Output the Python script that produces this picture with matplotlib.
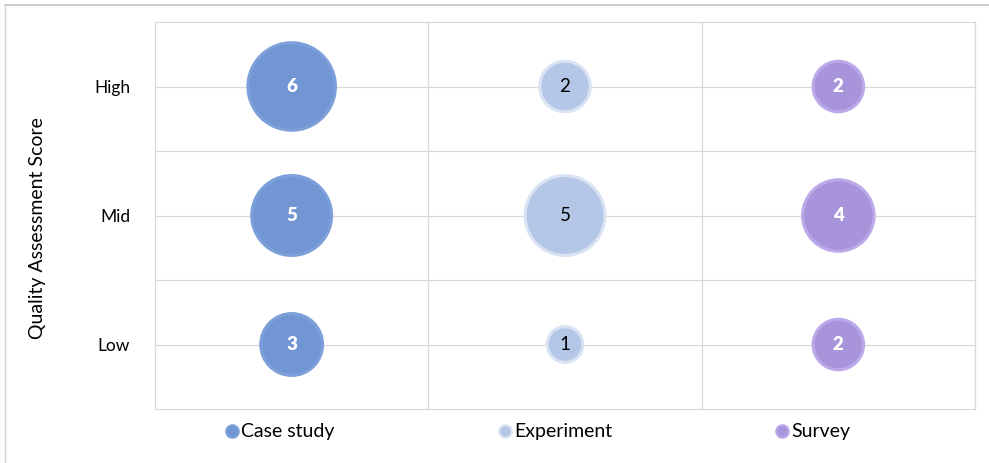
import matplotlib
matplotlib.use("Agg")
import matplotlib.pyplot as plt
from matplotlib.lines import Line2D
import numpy as np

plt.rcParams['font.family'] = ['Lato', 'DejaVu Sans']

methods = ["Case study", "Experiment", "Survey"]
levels = ["Low", "Mid", "High"]
case_study = [3, 5, 6]
experiment = [1, 5, 2]
survey = [2, 4, 2]

fills = ["#7296D4", "#B4C7E7", "#A794DA"]
edges = ["#7DA0DA", "#DAE3F3", "#BCA9EA"]
label_colors = ["white", "black", "white"]
label_weights = ["heavy", "normal", "heavy"]

series = [case_study, experiment, survey]

fig = plt.figure(figsize=(9.89, 4.63), dpi=100)
W, H = 989, 463
ax = fig.add_axes([155 / W, (H - 409) / H, (975 - 155) / W, (409 - 22) / H])

D = 63.0  # points, fill diameter for max value
vmax = max(max(s) for s in series)
ypos = np.arange(1, len(levels) + 1)
for i, (vals, fc, ec, lc, lw_) in enumerate(zip(series, fills, edges, label_colors, label_weights)):
    x = np.full(len(vals), i + 0.5)
    sizes = (D * np.sqrt(np.array(vals) / vmax)) ** 2
    ax.scatter(x, ypos, s=sizes, c=fc, edgecolors=ec, linewidths=2.2, zorder=3)
    for xx, yy, v in zip(x, ypos, vals):
        ax.text(xx, yy, str(v), ha="center", va="center", color=lc,
                fontsize=13.5, fontweight=lw_, zorder=4)

ax.set_xlim(0, len(methods))
ax.set_ylim(0.5, len(levels) + 0.5)
ax.set_xticks(np.arange(1, len(methods)))
ax.set_xticklabels([])
ax.set_yticks(ypos)
ax.set_yticklabels(levels, fontsize=12.5)
ax.set_yticks(ypos[:-1] + 0.5, minor=True)
ax.tick_params(axis="both", which="both", length=0)
ax.tick_params(axis="y", pad=18)
ax.grid(True, which="both", color="#D9D9D9", linewidth=0.9, zorder=0)
ax.set_axisbelow(True)
for sp in ax.spines.values():
    sp.set_color("#D9D9D9")
    sp.set_linewidth(0.9)
ax.set_ylabel("Quality Assessment Score", fontsize=14)
ax.yaxis.set_label_coords((46 - 155) / 820, (409 - 228) / 387)

handles = [Line2D([], [], marker="o", linestyle="none", markersize=9,
                  markerfacecolor=fc, markeredgecolor=ec, markeredgewidth=1.5)
           for fc, ec in zip(fills, edges)]
fig.legend(handles, methods, loc="center", bbox_to_anchor=(538 / W, 1 - 432 / H),
           ncol=3, frameon=False, fontsize=14, handlelength=0.7,
           handletextpad=0.12, columnspacing=8.4)

# outer border (top and left)
fig.add_artist(Line2D([5 / W, 1], [1 - 4.5 / H, 1 - 4.5 / H], transform=fig.transFigure,
                      color="#C4C4C4", linewidth=1.2))
fig.add_artist(Line2D([5 / W, 5 / W], [0, 1 - 4.5 / H], transform=fig.transFigure,
                      color="#D5D5D5", linewidth=1.0))

fig.savefig("out.png", dpi=100)
